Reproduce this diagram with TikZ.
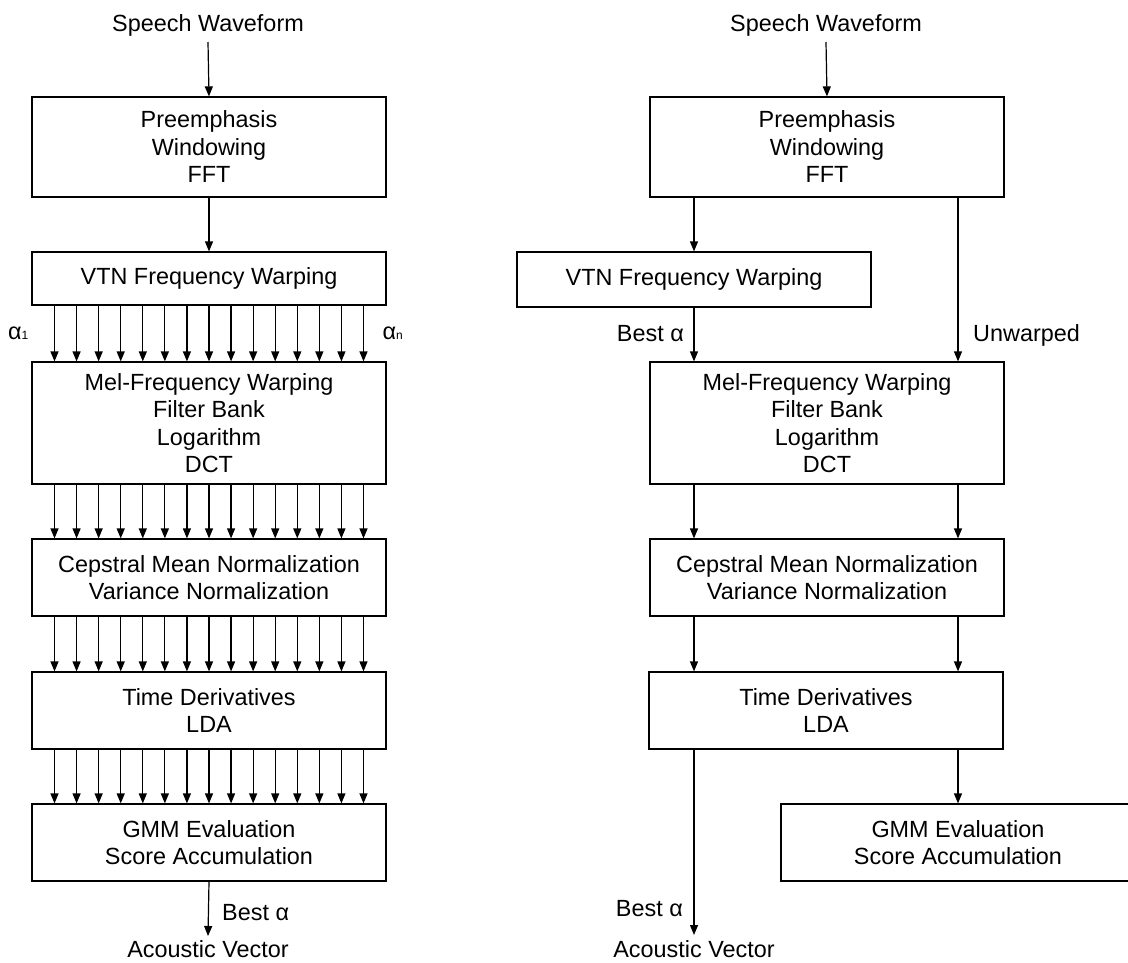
\documentclass[tikz,border=0pt]{standalone}
\usepackage{fontspec}
\setmainfont{Liberation Sans}
\usetikzlibrary{arrows.meta}
\begin{document}
\begin{tikzpicture}[x=1pt,y=-1pt,
  every node/.style={font=\fontsize{23.4}{27.5}\selectfont},
  box/.style={draw, line width=1.2pt, inner sep=0pt, align=center, minimum width=354pt},
  lbl/.style={inner sep=0pt, anchor=base},
  arr/.style={line width=1.2pt, -{Triangle[length=10pt,width=8pt]}}]
\useasboundingbox (0,0) rectangle (1128,962);

% ---------------- left pipeline: all warp factors in parallel
\node[lbl] (swL) at (208,31) {Speech Waveform};
\node[box, minimum height=100pt] (preL) at (209,147) {Preemphasis\\Windowing\\FFT};
\node[box, minimum height=53pt]  (vtnL) at (209,278.5) {VTN Frequency Warping};
\node[box, minimum height=122pt] (melL) at (209,423) {Mel-Frequency Warping\\Filter Bank\\Logarithm\\DCT};
\node[box, minimum height=77pt]  (cmnL) at (209,577.5) {Cepstral Mean Normalization\\Variance Normalization};
\node[box, minimum height=77pt]  (tdL)  at (209,710.5) {Time Derivatives\\LDA};
\node[box, minimum height=77pt]  (gmmL) at (209,842.5) {GMM Evaluation\\Score Accumulation};
\node[lbl] (avL) at (208,957) {Acoustic Vector};

\node[lbl, anchor=base west] (a1) at (8,339) {α{\fontsize{12}{14}\selectfont 1}};
\node[lbl, anchor=base east] (an) at (403,339) {α{\fontsize{12}{14}\selectfont n}};
\node[lbl, anchor=base west] (bestL) at (222,920) {Best α};

\draw[arr] ([yshift=-11pt]swL.base) -- (preL.north);
\draw[arr] (preL.south) -- (vtnL.north);
\foreach \i in {0,...,14}{
  \draw[arr] ([xshift={(\i-7)*22.07pt}]vtnL.south) -- ([xshift={(\i-7)*22.07pt}]melL.north);
  \draw[arr] ([xshift={(\i-7)*22.07pt}]melL.south) -- ([xshift={(\i-7)*22.07pt}]cmnL.north);
  \draw[arr] ([xshift={(\i-7)*22.07pt}]cmnL.south) -- ([xshift={(\i-7)*22.07pt}]tdL.north);
  \draw[arr] ([xshift={(\i-7)*22.07pt}]tdL.south) -- ([xshift={(\i-7)*22.07pt}]gmmL.north);
}
\draw[arr] (gmmL.south) -- ([yshift=21pt]avL.base);

% ---------------- right pipeline: best warp plus unwarped branch
\coordinate (cL) at (694,0);
\coordinate (cR) at (958,0);

\node[lbl] (swR) at (826,31) {Speech Waveform};
\node[box, minimum height=100pt] (preR) at (827,147) {Preemphasis\\Windowing\\FFT};
\node[box, minimum height=55pt]  (vtnR) at (694,279.5) {VTN Frequency Warping};
\node[box, minimum height=122pt] (melR) at (827,423) {Mel-Frequency Warping\\Filter Bank\\Logarithm\\DCT};
\node[box, minimum height=77pt]  (cmnR) at (827,577.5) {Cepstral Mean Normalization\\Variance Normalization};
\node[box, minimum height=77pt]  (tdR)  at (826,710.5) {Time Derivatives\\LDA};
\node[box, minimum height=77pt]  (gmmR) at (958,842.5) {GMM Evaluation\\Score Accumulation};
\node[lbl] (avR) at (694,957) {Acoustic Vector};

\node[lbl, anchor=base east] (bestR) at (684,341) {Best α};
\node[lbl, anchor=base west] (unw) at (973,341) {Unwarped};
\node[lbl, anchor=base east] (bestR2) at (683,916) {Best α};

\draw[arr] ([yshift=-11pt]swR.base) -- (preR.north);
\draw[arr] (preR.south -| cL) -- (vtnR.north);
\draw[arr] (preR.south -| cR) -- (melR.north -| cR);
\draw[arr] (vtnR.south) -- (melR.north -| cL);
\draw[arr] (melR.south -| cL) -- (cmnR.north -| cL);
\draw[arr] (melR.south -| cR) -- (cmnR.north -| cR);
\draw[arr] (cmnR.south -| cL) -- (tdR.north -| cL);
\draw[arr] (cmnR.south -| cR) -- (tdR.north -| cR);
\draw[arr] (tdR.south -| cR) -- (gmmR.north);
\draw[arr] (tdR.south -| cL) -- ([yshift=22pt]avR.base);
\end{tikzpicture}
\end{document}
